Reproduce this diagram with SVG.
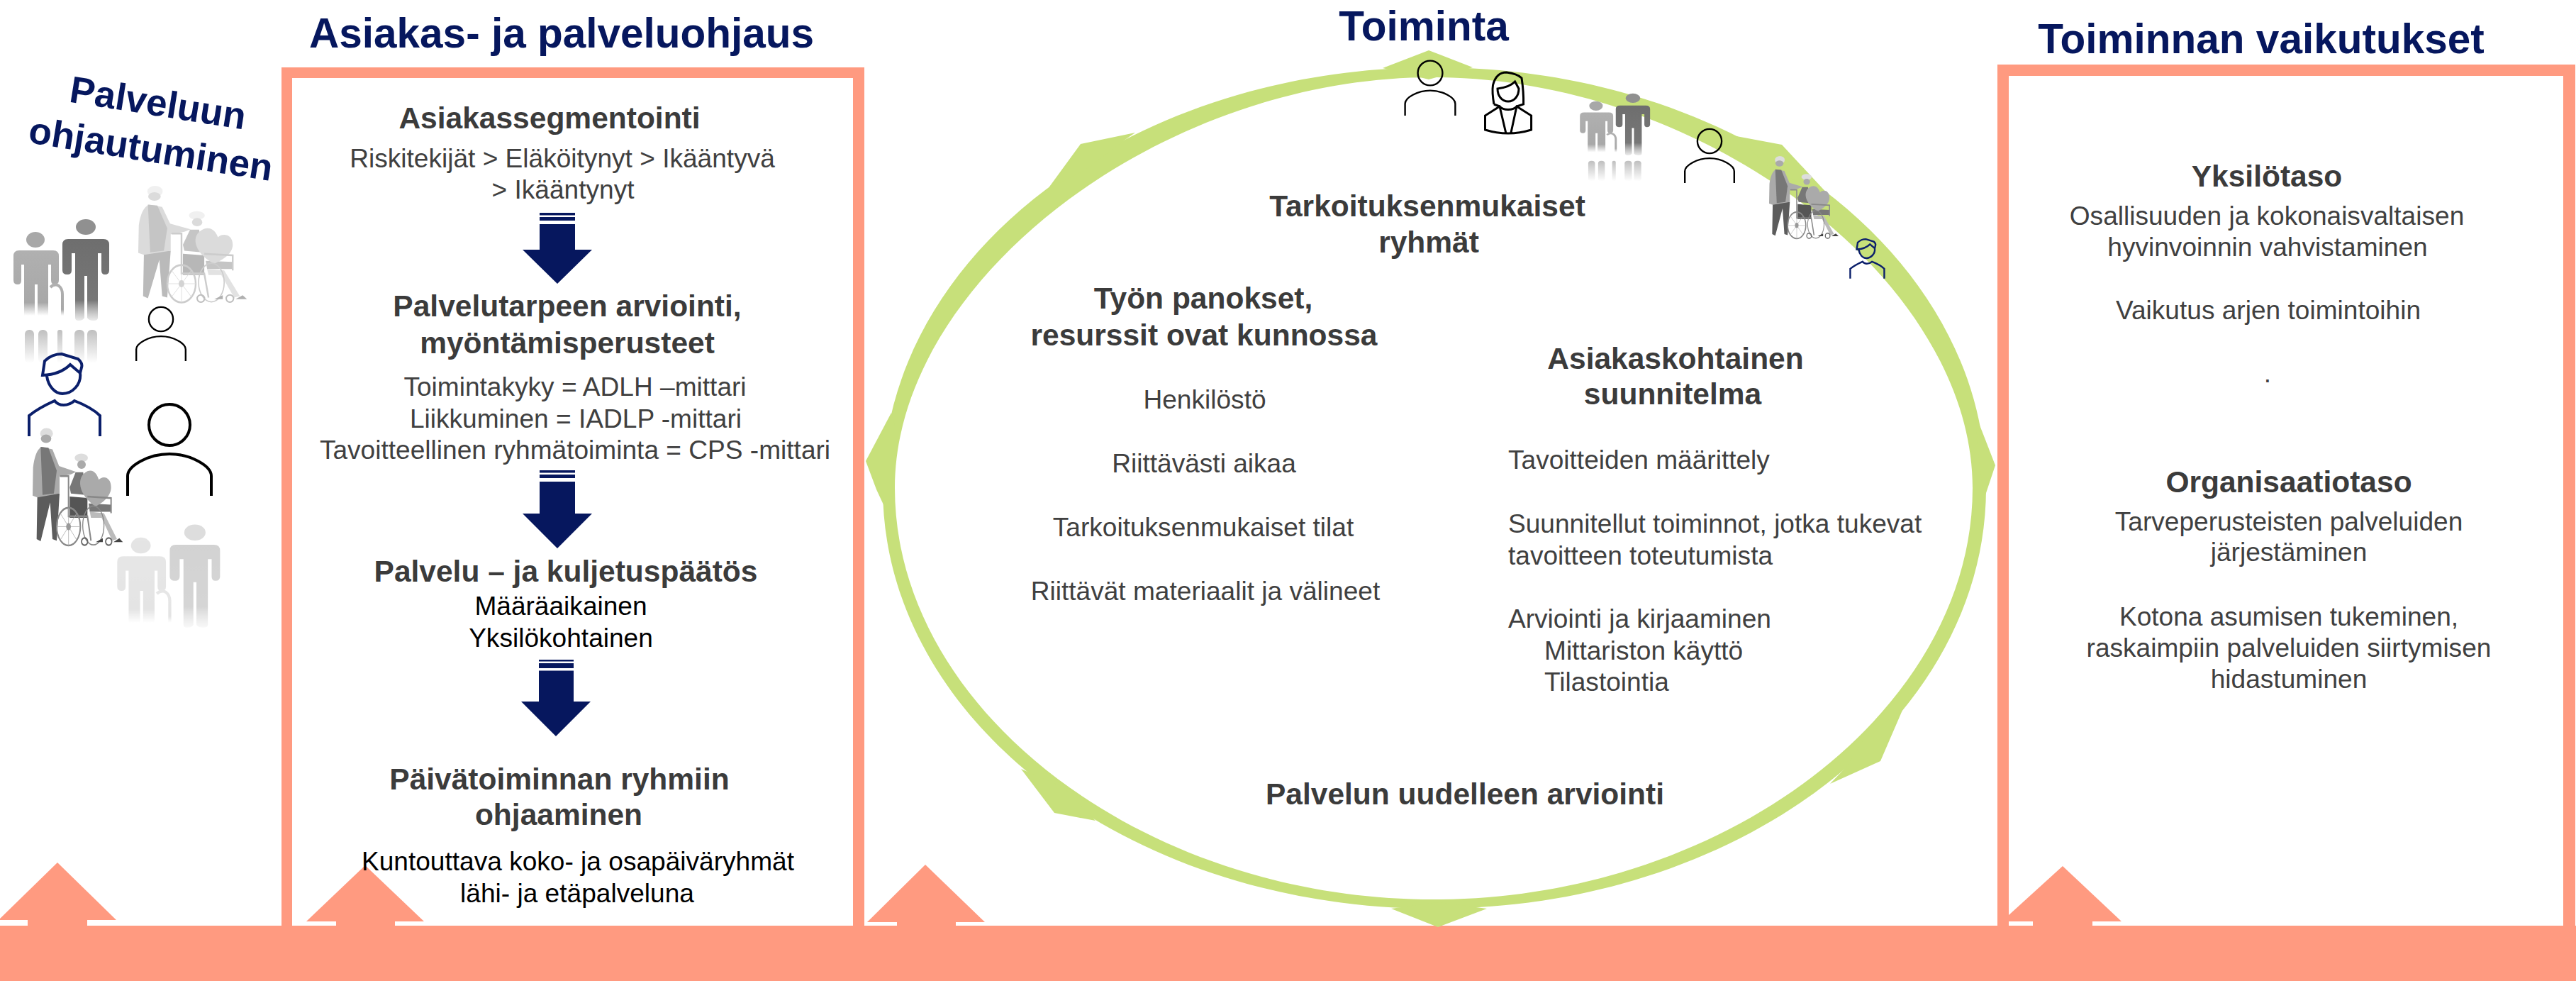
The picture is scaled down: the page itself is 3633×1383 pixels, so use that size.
<svg xmlns="http://www.w3.org/2000/svg" width="3633" height="1383" viewBox="0 0 3633 1383">
<style>
text{font-family:"Liberation Sans",Arial,sans-serif}
.t{font-size:58.500px;font-weight:700;fill:#06175e;text-anchor:middle}
.h{font-size:42.500px;font-weight:700;fill:#3b3b3b;text-anchor:middle}
.b{font-size:37.100px;fill:#404040;text-anchor:middle}
.l{font-size:37.100px;fill:#404040}
.k{font-size:37.100px;fill:#000;text-anchor:middle}
.frame{fill:#ff9a80;fill-rule:evenodd}
.coral{fill:#ff9a80}
.ring{fill:#c7e07a;fill-rule:evenodd}
.navy{fill:#06175e}
.po{fill:none;stroke:#000;stroke-width:4}
.pn{fill:none;stroke:#0b1f6b;stroke-width:4}
</style>
<defs>
<linearGradient id="gA" x1="0" y1="0" x2="0" y2="1"><stop offset="0" stop-color="#b0b0b0"/><stop offset=".8" stop-color="#a8a8a8"/><stop offset="1" stop-color="#a8a8a8" stop-opacity="0"/></linearGradient>
<linearGradient id="gB" x1="0" y1="0" x2="0" y2="1"><stop offset="0" stop-color="#6e6e6e"/><stop offset=".75" stop-color="#777"/><stop offset="1" stop-color="#999" stop-opacity=".2"/></linearGradient>
<linearGradient id="gR" x1="0" y1="0" x2="0" y2="1"><stop offset="0" stop-color="#aaa" stop-opacity=".75"/><stop offset="1" stop-color="#aaa" stop-opacity="0"/></linearGradient>
<g id="coupleBody">
<ellipse cx="49" cy="335" rx="13" ry="11" fill="#a8a8a8"/>
<path fill="url(#gA)" d="M26,350H74Q82,350 82,358V392Q82,398 76,398Q71,398 71,392V370H67V442H52V398H48V442H33V370H29V392Q29,398 24,398Q18,398 18,392V358Q18,350 26,350Z"/>
<path fill="none" stroke="url(#gA)" stroke-width="4" d="M70,402Q76,396 82,400Q87,404 87,412V442"/>
<ellipse cx="120" cy="317" rx="14" ry="11" fill="#909090"/>
<path fill="url(#gB)" d="M95,334H145Q153,334 153,342V378Q153,384 147,384Q142,384 142,378V354H137V445Q137,449 131,449Q124,449 122,445V386H118V445Q116,449 110,449Q105,449 105,445V354H100V378Q100,384 94,384Q87,384 87,378V342Q87,334 95,334Z"/>
</g>
<g id="couple">
<use href="#coupleBody"/>
<g fill="url(#gR)"><rect x="34" y="462" width="13" height="47" rx="6"/><rect x="53" y="462" width="13" height="47" rx="6"/><rect x="80" y="462" width="7" height="47" rx="3"/><rect x="104" y="462" width="14" height="47" rx="6"/><rect x="122" y="462" width="14" height="47" rx="6"/></g>
</g>
<g id="chair">
<ellipse cx="197" cy="888" rx="27" ry="18" fill="#ddd"/>
<ellipse cx="195" cy="905" rx="22" ry="14" fill="#aaa"/>
<path fill="#5c5c5c" d="M158,1090L155,1235L172,1242L212,1115L222,1235L240,1240L252,1085Z"/>
<path fill="#aaa" d="M175,932Q148,945 140,1000L138,1092L158,1098L252,1085V1030L300,1022L322,1014L250,995L222,940Z"/>
<path fill="#777" d="M172,932L205,935L240,1010L228,1085L180,1090Z"/>
<ellipse cx="344" cy="968" rx="28" ry="14" fill="#ddd"/>
<ellipse cx="345" cy="990" rx="18" ry="14" fill="#aaa"/>
<path fill="#777" d="M320,1015L352,1015L362,1090L300,1085L295,1065Z"/>
<path fill="#555" d="M295,1095L370,1100V1165L295,1165Z"/>
<path fill="#777" d="M375,1118L470,1122V1145L380,1145Z"/>
<path fill="#bbb" d="M380,1145L440,1150L495,1235L475,1240L430,1165L385,1165Z"/>
<path fill="#aaa" d="M405,1128C330,1090 320,1030 370,1012C395,1005 410,1020 418,1040C435,1025 470,1030 470,1065C470,1095 435,1115 405,1128Z"/>
<path fill="none" stroke="#888" stroke-width="6" d="M255,1028H290V1160H370L385,1240M370,1095L470,1100V1150"/>
<ellipse cx="290" cy="1194" rx="50" ry="62" fill="none" stroke="#888" stroke-width="6"/>
<path fill="none" stroke="#aaa" stroke-width="2" d="M240,1194H340M290,1132V1256M255,1150L325,1238M325,1150L255,1238"/>
<ellipse cx="290" cy="1194" rx="10" ry="12" fill="#999"/>
<ellipse cx="395" cy="1190" rx="45" ry="64" fill="none" stroke="#888" stroke-width="4"/>
<ellipse cx="358" cy="1243" rx="13" ry="12" fill="none" stroke="#666" stroke-width="5"/>
<ellipse cx="460" cy="1243" rx="13" ry="12" fill="none" stroke="#666" stroke-width="5"/>
<path fill="#444" d="M405,1245L435,1232V1245ZM480,1245L505,1232L520,1245Z"/>
</g>
<g id="person">
<ellipse cx="0" cy="0" rx="29" ry="29"/>
<path d="M-59,100V72C-59,58 -30,41 0,41C30,41 59,58 59,72V100"/>
</g>
<g id="navyp">
<path d="M-28,-1L-25,-21Q-15,-31 -1,-31Q12,-27 22,-24Q29,-18 27,-12L25,-4L11,-16Q-3,-2 -28,-1ZM-22,0C-20,15 -10,25 0,25C14,25 27,12 25,-4"/>
<path d="M-47,85V56C-35,46 -22,40 -11,35C-5,43 8,43 17,35C30,40 43,46 53,56V85"/>
</g>
</defs>

<rect id="background" width="3633" height="1383" fill="#fff"/>

<g id="connectors">
<rect id="base-band" class="coral" x="0" y="1305" width="3633" height="78"/>
</g>

<g id="col-ohjautuminen">
<text class="t" style="font-size:53px" transform="translate(220,163) rotate(9)">Palveluun</text>
<text class="t" style="font-size:53px" transform="translate(210,228) rotate(9)">ohjautuminen</text>
<use href="#couple" transform="translate(1,3)"/>
<use href="#chair" transform="matrix(.4013 0 0 .4258 139.6 -108.4)" opacity=".42"/>
<use href="#person" class="po" transform="translate(227,450) scale(.59)"/>
<use href="#navyp" class="pn" transform="translate(88,530)"/>
<use href="#chair" transform="translate(0,230) scale(.3333,.4292)"/>
<use href="#person" class="po" transform="translate(239,599)"/>
<use href="#coupleBody" transform="matrix(1.074 0 0 1.015 146 429)" opacity=".3"/>
<path id="arrow-a" class="coral" d="M81,1216L164,1297H123V1305H39V1297H0V1295Z"/>
</g>

<g id="col-ohjaus">
<text class="t" x="792" y="67">Asiakas- ja palveluohjaus</text>
<path class="frame" d="M397,95H1219V1305H397ZM412,110V1305H1203V110Z"/>
<text class="h" x="775" y="181">Asiakassegmentointi</text>
<text class="b" x="793" y="236">Riskitekijät &gt; Eläköitynyt &gt; Ikääntyvä</text>
<text class="b" x="794" y="280">&gt; Ikääntynyt</text>
<g class="navy"><rect x="761" y="300" width="50" height="3.5"/><rect x="761" y="306" width="50" height="5"/><path d="M761,316H811V352H835L786,400L737,352H761Z"/></g>
<text class="h" x="800" y="446">Palvelutarpeen arviointi,</text>
<text class="h" x="800" y="498">myöntämisperusteet</text>
<text class="b" x="811" y="558">Toimintakyky = ADLH –mittari</text>
<text class="b" x="812" y="603">Liikkuminen = IADLP -mittari</text>
<text class="b" x="811" y="647">Tavoitteellinen ryhmätoiminta = CPS -mittari</text>
<g class="navy"><rect x="761" y="663" width="50" height="3.5"/><rect x="761" y="669" width="50" height="5"/><path d="M761,679H811V724H835L786,773L737,724H761Z"/></g>
<text class="h" x="798" y="820">Palvelu – ja kuljetuspäätös</text>
<text class="k" x="791" y="867">Määräaikainen</text>
<text class="k" x="791" y="912">Yksilökohtainen</text>
<g class="navy"><rect x="760" y="930" width="49" height="2.5"/><rect x="760" y="935" width="49" height="7"/><path d="M760,945.500H809V989H833L784,1038L735,989H760Z"/></g>
<text class="h" x="789" y="1113">Päivätoiminnan ryhmiin</text>
<text class="h" x="788" y="1163">ohjaaminen</text>
<path id="arrow-b" class="coral" d="M515,1220L598,1299H557V1305H474V1299H432Z"/>
<text class="k" x="815" y="1227">Kuntouttava koko- ja osapäiväryhmät</text>
<text class="k" x="814" y="1272">lähi- ja etäpalveluna</text>
</g>

<g id="col-toiminta">
<text class="t" x="2008" y="57">Toiminta</text>
<path id="ring" class="ring" d="M1245,688C1245,361 1593,95 2023,95C2453,95 2801,361 2801,688C2801,1015 2453,1281 2023,1281C1593,1281 1245,1015 1245,688Z
M1262,688C1262,396 1636,109 2020,109C2404,109 2782,396 2782,688C2782,1001 2432,1268 2022,1268C1612,1268 1262,1001 1262,688Z"/>
<g id="ring-heads" class="ring">
<path d="M1950,96L2015,71L2077,95L2015,112Z"/>
<path d="M2449,192L2513,204L2581,277L2500,240Z"/>
<path d="M2786,584L2814,656L2798,704L2790,640Z"/>
<path d="M2684,999L2652,1073L2581,1105L2605,1080L2630,1040Z"/>
<path d="M1962,1281L2028,1307L2097,1281L2028,1272Z"/>
<path d="M1440,1084L1487,1146L1545,1157L1500,1110Z"/>
<path d="M1257,582L1221,650L1236,690L1249,718L1262,690L1262,600Z"/>
<path d="M1601,187L1524,203L1478,266L1530,240L1581,201Z"/>
</g>
<use href="#person" class="po" transform="translate(2017,103) scale(.6)"/>
<g id="woman" fill="none" stroke="#000" stroke-width="3">
<path d="M2107,147Q2104,130 2105.500,120Q2110,102 2124.600,102Q2140,104 2146,110Q2149,130 2148.600,147L2139,150M2107,147L2115,150"/>
<path d="M2112,125C2112,135 2118,143 2127,143C2136,143 2142,135 2142,125L2136.600,115C2130,122 2120,124 2112,125Z"/>
<path d="M2094.500,183V163L2115,150C2120,156 2134,156 2139,150L2159.600,163V183Q2127,193 2094.500,183ZM2115,150L2123.700,187M2139,150L2131,187"/>
</g>
<use href="#couple" transform="matrix(.733 0 0 .61 2215 -55)"/>
<use href="#person" class="po" transform="translate(2411,199) scale(.59)"/>
<use href="#chair" transform="matrix(.2565 0 0 .3015 2459.600 -42.300)"/>
<use href="#navyp" class="pn" style="stroke-width:5" transform="translate(2632,352) scale(.48)"/>
<text class="h" x="2013" y="305">Tarkoituksenmukaiset</text>
<text class="h" x="2015" y="356">ryhmät</text>
<text class="h" x="1697" y="435">Työn panokset,</text>
<text class="h" x="1698" y="487">resurssit ovat kunnossa</text>
<text class="b" x="1699" y="576">Henkilöstö</text>
<text class="b" x="1698" y="666">Riittävästi aikaa</text>
<text class="b" x="1697" y="756">Tarkoituksenmukaiset tilat</text>
<text class="b" x="1700" y="846">Riittävät materiaalit ja välineet</text>
<text class="h" x="2363" y="520">Asiakaskohtainen</text>
<text class="h" x="2359" y="570">suunnitelma</text>
<text class="l" x="2127" y="661">Tavoitteiden määrittely</text>
<text class="l" x="2127" y="751">Suunnitellut toiminnot, jotka tukevat</text>
<text class="l" x="2127" y="796">tavoitteen toteutumista</text>
<text class="l" x="2127" y="885">Arviointi ja kirjaaminen</text>
<text class="l" x="2178" y="930">Mittariston käyttö</text>
<text class="l" x="2178" y="974">Tilastointia</text>
<text class="h" x="2066" y="1134">Palvelun uudelleen arviointi</text>
<path id="arrow-c" class="coral" d="M1305,1219L1389,1300H1348V1305H1265V1300H1223Z"/>
</g>

<g id="col-vaikutukset">
<text class="t" x="3189" y="75">Toiminnan vaikutukset</text>
<path class="frame" d="M2817,91H3632V1305H2817ZM2833,107V1305H3615V107Z"/>
<path id="arrow-d" class="coral" d="M2909,1221L2992,1299H2951V1305H2867V1299H2832V1291Z"/>
<text class="h" x="3197" y="263">Yksilötaso</text>
<text class="b" x="3197" y="317">Osallisuuden ja kokonaisvaltaisen</text>
<text class="b" x="3198" y="361">hyvinvoinnin vahvistaminen</text>
<text class="b" x="3199" y="450">Vaikutus arjen toimintoihin</text>
<text class="b" x="3198" y="539">.</text>
<text class="h" x="3228" y="694">Organisaatiotaso</text>
<text class="b" x="3228" y="748">Tarveperusteisten palveluiden</text>
<text class="b" x="3228" y="791">järjestäminen</text>
<text class="b" x="3228" y="882">Kotona asumisen tukeminen,</text>
<text class="b" x="3228" y="926">raskaimpiin palveluiden siirtymisen</text>
<text class="b" x="3228" y="970">hidastuminen</text>
</g>
</svg>
